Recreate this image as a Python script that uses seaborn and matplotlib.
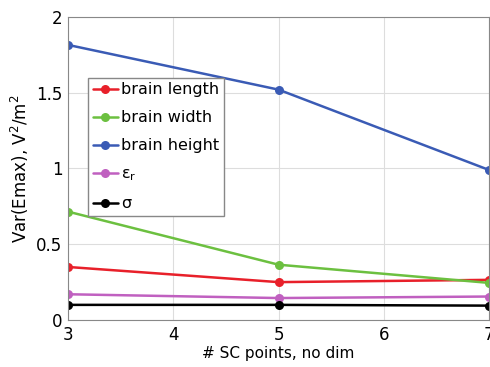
import seaborn as sns
import pandas as pd
import matplotlib.pyplot as plt

sc_points = [3, 5, 7]
brain_length = [0.35, 0.25, 0.265]
brain_width = [0.715, 0.365, 0.245]
brain_height = [1.815, 1.52, 0.99]
eps_r = [0.17, 0.145, 0.155]
sigma = [0.10, 0.10, 0.095]

labels = ['brain length', 'brain width', 'brain height', r'$\mathregular{\epsilon_r}$', 'σ']
colors = ['#e8202a', '#6cc040', '#3a5bb5', '#c060c0', '#000000']

df = pd.DataFrame({
    'x': sc_points * 5,
    'y': brain_length + brain_width + brain_height + eps_r + sigma,
    'series': [l for l in labels for _ in sc_points],
})

sns.set_style('whitegrid', {'grid.color': '#dddddd', 'axes.edgecolor': '#888888'})
plt.rcParams['font.family'] = ['DejaVu Sans']
plt.rcParams['text.color'] = 'black'

fig = plt.figure(figsize=(4.9, 3.67), dpi=100)
ax = fig.add_axes([0.139, 0.128, 0.859, 0.826])
sns.lineplot(data=df, x='x', y='y', hue='series', palette=colors, marker='o',
             markersize=6.5, markeredgewidth=0, linewidth=1.8, ax=ax)

ax.set_xlim(3, 7)
ax.set_ylim(0, 2)
ax.set_xticks([3, 4, 5, 6, 7])
ax.set_yticks([0, 0.5, 1, 1.5, 2])
ax.set_yticklabels(['0', '0.5', '1', '1.5', '2'])
ax.tick_params(labelsize=12, length=0, pad=4, labelcolor='black')
ax.set_xlabel('# SC points, no dim', fontsize=11, labelpad=2, color='black')
ax.set_ylabel(r'Var(Emax), V$^2$/m$^2$', fontsize=12, labelpad=4, color='black')
for s in ax.spines.values():
    s.set_linewidth(0.8)

leg = ax.legend(loc='upper left', bbox_to_anchor=(0.047, 0.80), borderaxespad=0,
                fontsize=11.5, frameon=True, fancybox=False, edgecolor='#888888',
                framealpha=1, handlelength=1.6, handletextpad=0.2, borderpad=0.3,
                labelspacing=0.82)
for t in leg.get_texts():
    t.set_color('black')

fig.savefig('out.png', dpi=100)
